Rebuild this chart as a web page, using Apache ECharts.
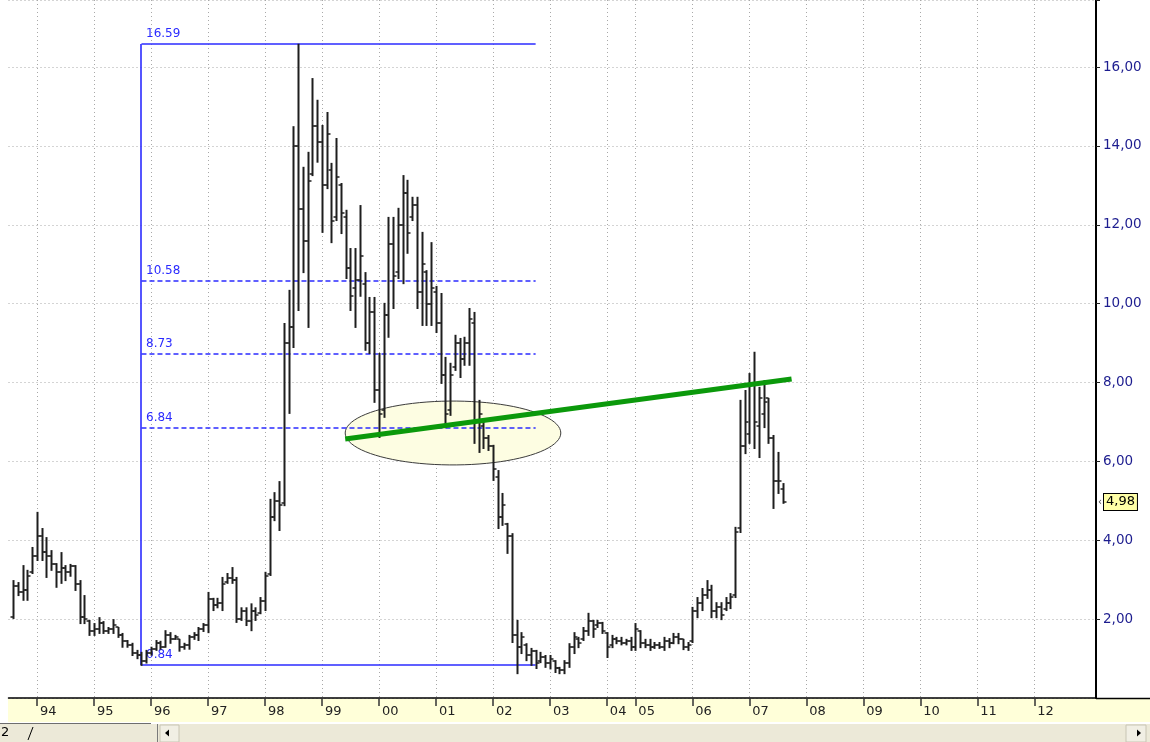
<!DOCTYPE html>
<html lang="en">
<head>
<meta charset="UTF-8">
<title>Monthly bars 94-07</title>
<style>
  html, body { margin: 0; padding: 0; background: #fff; }
  #chart { width: 1150px; height: 742px; }
</style>
</head>
<body>
<div id="chart"></div>
<script src="https://cdn.jsdelivr.net/npm/echarts@6/dist/echarts.min.js"></script>
<script>
// x axis: one slot per monthly bar (2004 only has 6 bars in this feed)
var preMonths = ['93-7', '93-8', '93-9', '93-10', '93-11', '93-12'];
var yearLabels = ['94', '95', '96', '97', '98', '99', '00', '01', '02', '03', '04', '05', '06', '07', '08', '09', '10', '11', '12'];
var barsPerYear = [12, 12, 12, 12, 12, 12, 12, 12, 12, 12, 6, 12, 12, 12, 12, 12, 12, 12, 12];
var tailMonths = ['13-1', '13-2'];

// OHLC, first bar sits on slot 1 (Aug 93)
var firstBar = 1;
var opens = [
  2.05, 2.85, 2.70, 2.75, 3.20, 3.60, 4.10, 3.70, 3.60, 3.40,
  3.20, 3.30, 3.20, 3.35, 2.90, 2.05, 1.95, 1.70, 1.75, 1.90,
  1.70, 1.75, 1.80, 1.60, 1.45, 1.35, 1.15, 1.10, 0.95, 1.15,
  1.25, 1.40, 1.30, 1.60, 1.50, 1.50, 1.30, 1.35, 1.55, 1.60,
  1.75, 1.85, 2.50, 2.35, 2.40, 2.95, 3.05, 3.00, 2.00, 2.20,
  1.95, 2.20, 2.15, 2.45, 3.15, 4.60, 5.00, 4.95, 9.00, 9.40,
  14.00, 12.40, 11.60, 13.30, 14.50, 14.10, 13.00, 13.40, 12.20, 13.00,
  12.20, 10.90, 10.40, 10.60, 10.50, 9.00, 9.80, 7.80, 7.30, 9.70,
  11.50, 10.80, 12.00, 12.80, 12.20, 12.50, 10.30, 10.80, 10.00, 10.30,
  9.50, 8.20, 7.30, 8.40, 9.00, 8.60, 9.00, 9.50, 7.00, 6.90,
  6.60, 6.40, 5.60, 4.60, 4.40, 4.10, 1.60, 1.30, 1.35, 1.10,
  1.20, 0.95, 1.05, 0.90, 0.95, 0.75, 0.70, 0.90, 1.30, 1.50,
  1.50, 1.70, 1.95, 1.85, 1.90, 1.65, 1.35, 1.50, 1.45, 1.40,
  1.45, 1.30, 1.70, 1.40, 1.35, 1.30, 1.35, 1.30, 1.45, 1.40,
  1.55, 1.50, 1.30, 1.45, 2.20, 2.40, 2.60, 2.75, 2.20, 2.30,
  2.25, 2.40, 2.60, 4.30, 6.40, 6.70, 8.00, 6.90, 7.20, 7.60,
  6.60, 5.50, 5.30
];
var highs = [
  2.99, 2.94, 3.37, 3.25, 3.83, 4.72, 4.31, 4.08, 3.75, 3.42,
  3.70, 3.37, 3.40, 3.37, 2.99, 2.61, 1.98, 1.90, 2.05, 1.95,
  1.80, 2.00, 1.80, 1.65, 1.47, 1.40, 1.22, 1.17, 1.22, 1.30,
  1.47, 1.45, 1.72, 1.67, 1.60, 1.50, 1.40, 1.60, 1.67, 1.80,
  1.90, 2.69, 2.54, 2.54, 3.07, 3.17, 3.32, 3.07, 2.30, 2.30,
  2.40, 2.30, 2.56, 3.20, 5.05, 5.22, 5.50, 9.51, 10.35, 14.50,
  16.59, 13.47, 13.85, 15.72, 15.17, 14.53, 14.86, 13.57, 14.20, 13.06,
  12.38, 11.41, 11.41, 12.50, 10.80, 10.17, 10.17, 8.75, 10.02, 12.20,
  12.20, 12.43, 13.26, 13.14, 12.71, 12.71, 11.82, 10.85, 11.56, 10.45,
  10.27, 8.65, 8.50, 9.21, 9.13, 9.16, 9.89, 9.79, 7.56, 7.00,
  6.67, 6.42, 5.78, 5.20, 4.44, 4.18, 1.98, 1.67, 1.39, 1.27,
  1.22, 1.17, 1.09, 1.09, 0.96, 0.79, 0.96, 1.39, 1.67, 1.55,
  1.80, 2.16, 1.98, 1.98, 1.93, 1.67, 1.60, 1.55, 1.55, 1.50,
  1.55, 1.90, 1.72, 1.50, 1.50, 1.42, 1.42, 1.55, 1.52, 1.65,
  1.65, 1.50, 1.42, 2.31, 2.56, 2.79, 2.99, 2.87, 2.43, 2.43,
  2.56, 2.66, 4.34, 7.56, 7.81, 8.24, 8.78, 7.89, 8.06, 7.61,
  6.67, 6.24, 5.45
];
var lows = [
  2.03, 2.61, 2.49, 2.49, 3.17, 3.50, 3.50, 3.07, 3.25, 2.82,
  2.92, 2.99, 3.10, 2.74, 1.90, 1.90, 1.60, 1.60, 1.65, 1.65,
  1.65, 1.65, 1.55, 1.30, 1.30, 1.09, 1.01, 0.84, 0.90, 1.10,
  1.22, 1.25, 1.30, 1.40, 1.50, 1.20, 1.25, 1.25, 1.50, 1.47,
  1.70, 1.67, 2.23, 2.30, 2.23, 2.92, 2.92, 1.93, 1.98, 1.85,
  1.72, 1.98, 2.15, 2.23, 3.12, 4.51, 4.26, 4.89, 7.23, 8.90,
  9.84, 10.80, 9.41, 13.26, 13.60, 11.82, 12.93, 11.56, 12.12, 11.79,
  10.65, 9.84, 9.41, 10.20, 8.83, 8.75, 7.51, 6.62, 7.13, 9.16,
  9.89, 10.65, 10.52, 11.29, 12.12, 9.89, 9.46, 9.46, 9.46, 9.28,
  7.99, 6.87, 7.18, 8.32, 8.14, 8.45, 8.45, 6.47, 6.24, 6.34,
  6.29, 5.53, 4.31, 4.39, 3.68, 1.42, 0.63, 1.14, 0.96, 0.84,
  0.76, 0.91, 0.79, 0.75, 0.66, 0.63, 0.63, 0.79, 1.14, 1.29,
  1.47, 1.60, 1.55, 1.80, 1.65, 1.04, 1.29, 1.39, 1.36, 1.36,
  1.22, 1.22, 1.29, 1.29, 1.22, 1.27, 1.27, 1.22, 1.29, 1.39,
  1.39, 1.24, 1.22, 1.42, 2.05, 2.23, 2.54, 2.05, 2.05, 2.00,
  2.23, 2.28, 2.56, 4.21, 6.21, 6.47, 6.34, 6.11, 6.87, 6.47,
  4.82, 5.20, 4.95
];
var closes = [
  2.85, 2.70, 2.75, 3.10, 3.60, 4.10, 3.70, 3.60, 3.40, 3.20,
  3.30, 3.20, 3.35, 2.90, 2.05, 2.00, 1.70, 1.75, 1.90, 1.70,
  1.75, 1.85, 1.60, 1.45, 1.35, 1.15, 1.10, 0.95, 1.15, 1.25,
  1.40, 1.30, 1.60, 1.50, 1.55, 1.30, 1.35, 1.55, 1.60, 1.75,
  1.85, 2.50, 2.35, 2.40, 2.90, 3.05, 3.00, 2.00, 2.20, 1.95,
  2.20, 2.10, 2.45, 3.10, 4.60, 5.00, 4.90, 9.00, 9.40, 14.00,
  12.40, 11.60, 13.10, 14.50, 14.10, 13.00, 14.30, 12.10, 13.20, 12.30,
  10.90, 10.20, 10.60, 11.20, 9.00, 9.80, 7.80, 7.20, 9.70, 11.50,
  10.70, 12.00, 12.80, 11.80, 12.50, 10.30, 11.00, 10.00, 10.40, 9.50,
  8.20, 7.20, 8.20, 9.00, 8.60, 9.00, 9.60, 7.00, 7.20, 6.60,
  6.40, 5.80, 4.60, 4.90, 4.10, 1.60, 1.30, 1.55, 1.10, 1.20,
  0.90, 1.05, 0.90, 1.00, 0.75, 0.70, 0.90, 1.30, 1.55, 1.40,
  1.70, 1.95, 1.75, 1.90, 1.70, 1.30, 1.50, 1.45, 1.40, 1.45,
  1.30, 1.75, 1.40, 1.35, 1.30, 1.35, 1.30, 1.45, 1.40, 1.55,
  1.50, 1.30, 1.35, 2.20, 2.40, 2.60, 2.75, 2.20, 2.30, 2.10,
  2.40, 2.55, 4.20, 6.40, 7.00, 8.00, 7.00, 7.60, 7.50, 6.60,
  5.50, 5.50, 4.98
];
var lastPrice = 4.98;

// drawing tools: fibonacci box, trend line, highlight ellipse (slot, price)
var fibStart = 28, fibEnd = 111;
var fibHigh = 16.59, fibLow = 0.84;
var fibLevels = [10.58, 8.73, 6.84];
var trendLine = [[70.9, 6.57], [164.9, 8.09]];
var ellipse = [93.6, 6.72, 22.7, 0.81]; // centre slot, centre price, half width (slots), half height (price)

var categories = preMonths.slice();
yearLabels.forEach(function (y, k) {
  for (var m = 1; m <= barsPerYear[k]; m++) categories.push(y + '-' + m);
});
categories = categories.concat(tailMonths);
var lastSlot = categories.length - 1;

function isYearStart(index, value) {
  var p = value.split('-');
  return p[1] === '1' && yearLabels.indexOf(p[0]) >= 0;
}

var bars = opens.map(function (o, k) {
  return [firstBar + k, o, highs[k], lows[k], closes[k]];
});

// [from slot, to slot, price, dashed]
var fibRows = [[fibStart, fibEnd, fibHigh, 0], [fibStart, fibEnd, fibLow, 0]];
fibLevels.forEach(function (v) { fibRows.push([fibStart, fibEnd, v, 1]); });

var chart = echarts.init(document.getElementById('chart'), null, { renderer: 'canvas' });

var barColor = '#1e1e1e';
function renderBar(params, api) {
  var x = api.value(0);
  var o = api.coord([x, api.value(1)]);
  var h = api.coord([x, api.value(2)]);
  var l = api.coord([x, api.value(3)]);
  var c = api.coord([x, api.value(4)]);
  var px = Math.round(h[0]) + 0.5;
  return {
    type: 'group',
    children: [
      { type: 'line', shape: { x1: px, y1: h[1], x2: px, y2: l[1] + 1 }, style: { stroke: barColor, lineWidth: 2 } },
      { type: 'line', shape: { x1: px - 3, y1: Math.round(o[1]), x2: px, y2: Math.round(o[1]) }, style: { stroke: barColor, lineWidth: 1.5 } },
      { type: 'line', shape: { x1: px, y1: Math.round(c[1]), x2: px + 3, y2: Math.round(c[1]) }, style: { stroke: barColor, lineWidth: 1.5 } }
    ]
  };
}

function renderEllipse(params, api) {
  var cx = api.value(0), cy = api.value(1), rx = api.value(2), ry = api.value(3);
  var pts = [];
  for (var k = 0; k < 90; k++) {
    var a = k / 90 * Math.PI * 2;
    pts.push(api.coord([cx + rx * Math.cos(a), cy + ry * Math.sin(a)]));
  }
  return {
    type: 'polygon',
    shape: { points: pts },
    style: { fill: '#fdfde2', stroke: '#3c3c3c', lineWidth: 1 }
  };
}

var fibColor = '#2b2bff';
function renderFib(params, api) {
  var v = api.value(2);
  var a = api.coord([api.value(0), v]);
  var b = api.coord([api.value(1), v]);
  var y = Math.round(a[1]);
  var children = [
    { type: 'line', shape: { x1: a[0], y1: y, x2: b[0], y2: y },
      style: { stroke: fibColor, lineWidth: 1.6, lineDash: api.value(3) ? [5, 3] : null } },
    { type: 'text', x: Math.round(a[0]) + 5, y: y - 4,
      style: { text: v.toFixed(2), fill: fibColor, font: '12px "DejaVu Sans"', verticalAlign: 'bottom', textVerticalAlign: 'bottom' } }
  ];
  if (params.dataIndex === 0) {
    var lo = api.coord([api.value(0), fibLow]);
    var x = Math.round(a[0]);
    children.push({ type: 'line', shape: { x1: x, y1: y, x2: x, y2: Math.round(lo[1]) },
      style: { stroke: fibColor, lineWidth: 1.6 } });
  }
  return { type: 'group', children: children };
}

function renderTag(params, api) {
  var p = api.coord([api.value(0), api.value(1)]);
  var y = Math.round(p[1]);
  return {
    type: 'group',
    children: [
      { type: 'text', x: p[0] + 2, y: y,
        style: { text: '‹', fill: '#444', font: '10px "DejaVu Sans"', verticalAlign: 'middle', textVerticalAlign: 'middle' } },
      { type: 'text', x: p[0] + 8, y: y,
        style: {
          text: api.value(1).toFixed(2).replace('.', ','), fill: '#000', font: '13px "DejaVu Sans"',
          verticalAlign: 'middle', textVerticalAlign: 'middle',
          backgroundColor: '#ffffa6', borderColor: '#000', borderWidth: 1, padding: [2, 2, 1, 2]
        } }
    ]
  };
}

var gridColor = '#a8a8a8';

chart.setOption({
  animation: false,
  backgroundColor: '#ffffff',
  grid: { left: 8.5, right: 54, top: 0, bottom: 44, containLabel: false },
  xAxis: [{
    type: 'category',
    data: categories,
    boundaryGap: false,
    axisLine: { onZero: false, lineStyle: { color: '#000', width: 1.5 } },
    axisTick: { interval: isYearStart, length: 8, lineStyle: { color: '#333', width: 1.5 } },
    axisLabel: {
      interval: isYearStart,
      formatter: function (v) { return v.split('-')[0]; },
      align: 'left',
      padding: [0, 0, 0, 3],
      margin: 7,
      color: '#222',
      fontFamily: 'DejaVu Sans',
      fontSize: 13
    },
    splitLine: { show: true, interval: isYearStart, lineStyle: { color: gridColor, type: [1, 3] } }
  }, {
    type: 'value',
    min: 0,
    max: lastSlot,
    show: false
  }],
  yAxis: {
    type: 'value',
    position: 'right',
    min: 0,
    max: 17.7,
    interval: 2,
    axisLine: { show: true, onZero: false, lineStyle: { color: '#000', width: 2 } },
    axisTick: { show: true, length: 4, lineStyle: { color: '#222' } },
    axisLabel: {
      margin: 7,
      color: '#1d1d8f',
      fontFamily: 'DejaVu Sans',
      fontSize: 13.5,
      formatter: function (v) { return (v <= 0 || v >= 17) ? '' : v.toFixed(2).replace('.', ','); }
    },
    splitLine: { show: true, lineStyle: { color: gridColor, type: [1, 3] } }
  },
  graphic: [
    { type: 'rect', z: -10, shape: { x: 8, y: 699, width: 1142, height: 23 }, style: { fill: '#ffffd9' } },
    { type: 'line', z: 10, shape: { x1: 1096, y1: 698.5, x2: 1150, y2: 698.5 }, style: { stroke: '#000', lineWidth: 1.5 } },
    { type: 'rect', z: -10, shape: { x: 0, y: 724, width: 1150, height: 18 }, style: { fill: '#ece9d8' } },
    { type: 'line', z: 10, shape: { x1: 0, y1: 723.5, x2: 151, y2: 723.5 }, style: { stroke: '#6e6e6e', lineWidth: 1 } },
    { type: 'text', z: 10, x: 1, y: 726, style: { text: '2', font: '13px "DejaVu Sans"', fill: '#000' } },
    { type: 'line', z: 10, shape: { x1: 28, y1: 740, x2: 33, y2: 727 }, style: { stroke: '#000', lineWidth: 1 } },
    { type: 'line', z: 10, shape: { x1: 157.5, y1: 724, x2: 157.5, y2: 742 }, style: { stroke: '#7a7a7a', lineWidth: 1 } },
    { type: 'rect', z: 10, shape: { x: 160, y: 725, width: 19, height: 17 }, style: { fill: '#f1efe4', stroke: '#c8c5b4', lineWidth: 1 } },
    { type: 'polygon', z: 11, shape: { points: [[165, 733], [169, 729.5], [169, 736.5]] }, style: { fill: '#000' } },
    { type: 'rect', z: 10, shape: { x: 1126, y: 725, width: 20, height: 17 }, style: { fill: '#f1efe4', stroke: '#c8c5b4', lineWidth: 1 } },
    { type: 'polygon', z: 11, shape: { points: [[1141, 733], [1137, 729.5], [1137, 736.5]] }, style: { fill: '#000' } }
  ],
  series: [
    {
      name: 'highlight',
      type: 'custom',
      xAxisIndex: 1,
      z: 1,
      silent: true,
      renderItem: renderEllipse,
      encode: { x: 0, y: 1 },
      data: [ellipse]
    },
    {
      name: 'fib',
      type: 'custom',
      xAxisIndex: 1,
      z: 3,
      silent: true,
      clip: false,
      renderItem: renderFib,
      encode: { x: [0, 1], y: 2 },
      data: fibRows
    },
    {
      name: 'bars',
      type: 'custom',
      xAxisIndex: 1,
      z: 4,
      renderItem: renderBar,
      encode: { x: 0, y: [1, 2, 3, 4] },
      data: bars
    },
    {
      name: 'trend',
      type: 'line',
      xAxisIndex: 1,
      z: 5,
      symbol: 'none',
      silent: true,
      lineStyle: { color: '#0b990b', width: 5 },
      data: trendLine
    },
    {
      name: 'last',
      type: 'custom',
      xAxisIndex: 1,
      z: 6,
      clip: false,
      silent: true,
      renderItem: renderTag,
      encode: { x: 0, y: 1 },
      data: [[lastSlot, lastPrice]]
    }
  ]
});
</script>
</body>
</html>
